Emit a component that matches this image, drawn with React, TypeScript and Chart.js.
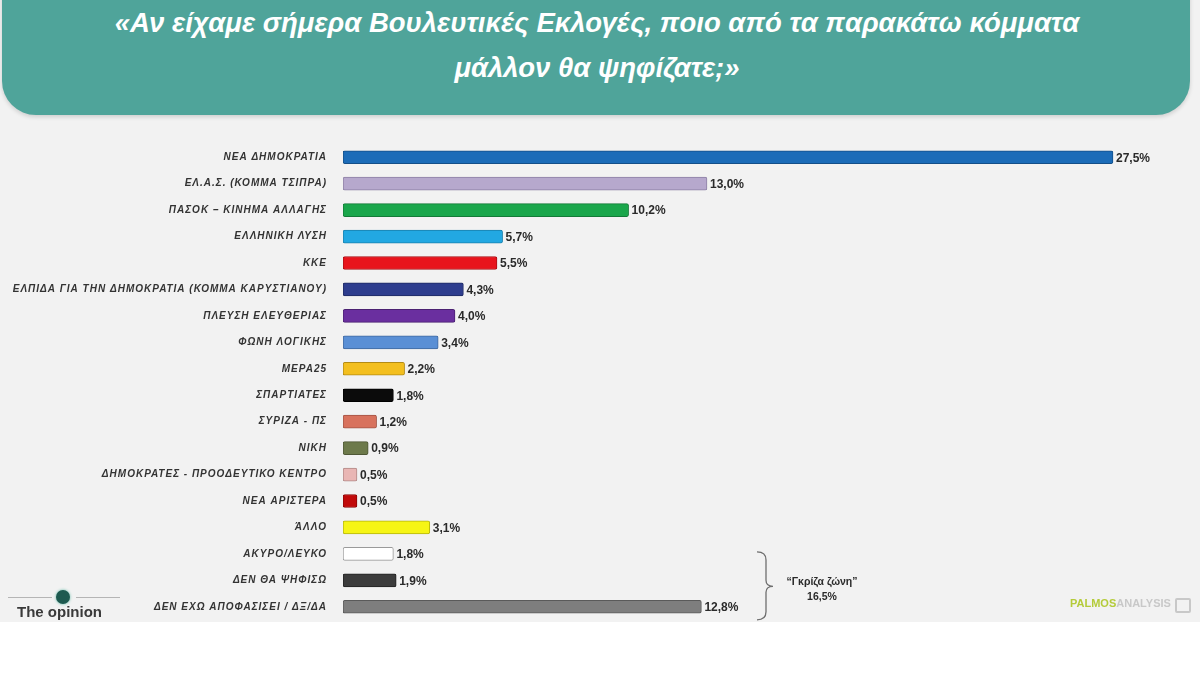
import React, { useEffect, useRef } from "react";
import Chart from "chart.js/auto";

const titleLines = [
  "«Αν είχαμε σήμερα Βουλευτικές Εκλογές, ποιο από τα παρακάτω κόμματα",
  "μάλλον θα ψηφίζατε;»",
];

const categories = [
  "ΝΕΑ ΔΗΜΟΚΡΑΤΙΑ",
  "ΕΛ.Α.Σ. (ΚΟΜΜΑ ΤΣΙΠΡΑ)",
  "ΠΑΣΟΚ – ΚΙΝΗΜΑ ΑΛΛΑΓΗΣ",
  "ΕΛΛΗΝΙΚΗ ΛΥΣΗ",
  "ΚΚΕ",
  "ΕΛΠΙΔΑ ΓΙΑ ΤΗΝ ΔΗΜΟΚΡΑΤΙΑ (ΚΟΜΜΑ ΚΑΡΥΣΤΙΑΝΟΥ)",
  "ΠΛΕΥΣΗ ΕΛΕΥΘΕΡΙΑΣ",
  "ΦΩΝΗ ΛΟΓΙΚΗΣ",
  "ΜΕΡΑ25",
  "ΣΠΑΡΤΙΑΤΕΣ",
  "ΣΥΡΙΖΑ - ΠΣ",
  "ΝΙΚΗ",
  "ΔΗΜΟΚΡΑΤΕΣ - ΠΡΟΟΔΕΥΤΙΚΟ ΚΕΝΤΡΟ",
  "ΝΕΑ ΑΡΙΣΤΕΡΑ",
  "ΆΛΛΟ",
  "ΑΚΥΡΟ/ΛΕΥΚΟ",
  "ΔΕΝ ΘΑ ΨΗΦΙΣΩ",
  "ΔΕΝ ΕΧΩ ΑΠΟΦΑΣΙΣΕΙ / ΔΞ/ΔΑ",
];

const values = [27.5, 13.0, 10.2, 5.7, 5.5, 4.3, 4.0, 3.4, 2.2, 1.8, 1.2, 0.9, 0.5, 0.5, 3.1, 1.8, 1.9, 12.8];

const valueLabels = [
  "27,5%", "13,0%", "10,2%", "5,7%", "5,5%", "4,3%", "4,0%", "3,4%", "2,2%",
  "1,8%", "1,2%", "0,9%", "0,5%", "0,5%", "3,1%", "1,8%", "1,9%", "12,8%",
];

const barColors = [
  "#1c6cb8", "#b6a8cd", "#1aa64b", "#22a8e2", "#e8141c", "#2e3d8e",
  "#6a2f9f", "#5a8fd5", "#f3bf1f", "#0b0b0b", "#d8725d", "#6d7a4b",
  "#e9b6b4", "#c10a0a", "#f6f515", "#ffffff", "#3c3c3c", "#7e7e7e",
];

const borderColors = [
  "#144f88", "#8d80a4", "#137a37", "#1a80ad", "#a80f15", "#1f2a62",
  "#4b2172", "#41689e", "#b38b15", "#000000", "#a35546", "#4f5836",
  "#b08886", "#8a0707", "#b5b40f", "#9a9a9a", "#222222", "#5a5a5a",
];

const greyZoneLabel = "“Γκρίζα ζώνη”";
const greyZoneValue = "16,5%";

const valueLabelPlugin = {
  id: "valueLabels",
  afterDatasetsDraw(chart: any) {
    const ctx = chart.ctx;
    const meta = chart.getDatasetMeta(0);
    ctx.save();
    ctx.font = "bold 12px 'Liberation Sans', Arial, sans-serif";
    ctx.fillStyle = "#2a2a2a";
    ctx.textAlign = "left";
    ctx.textBaseline = "middle";
    meta.data.forEach((bar: any, i: number) => {
      ctx.fillText(valueLabels[i], bar.x + 3, bar.y + 1);
    });
    ctx.restore();
  },
};

const bracePlugin = {
  id: "greyBrace",
  afterDraw(chart: any) {
    const ctx = chart.ctx;
    const y = chart.scales.y;
    const n = categories.length;
    const top = y.getPixelForValue(n - 3) - 2;
    const mid = y.getPixelForValue(n - 2) + 6;
    const bottom = y.getPixelForValue(n - 1) + 13;
    const x0 = 757;
    const xm = 766;
    const tip = 773;
    ctx.save();
    ctx.strokeStyle = "#6f6f6f";
    ctx.lineWidth = 1.3;
    ctx.beginPath();
    ctx.moveTo(x0, top);
    ctx.quadraticCurveTo(xm, top, xm, top + 8);
    ctx.lineTo(xm, mid - 6);
    ctx.quadraticCurveTo(xm, mid, tip, mid);
    ctx.quadraticCurveTo(xm, mid, xm, mid + 6);
    ctx.lineTo(xm, bottom - 8);
    ctx.quadraticCurveTo(xm, bottom, x0, bottom);
    ctx.stroke();
    ctx.font = "bold 10.5px 'Liberation Sans', Arial, sans-serif";
    ctx.fillStyle = "#2a2a2a";
    ctx.textAlign = "center";
    ctx.textBaseline = "middle";
    ctx.fillText(greyZoneLabel, 822, mid - 4);
    ctx.fillText(greyZoneValue, 822, mid + 11);
    ctx.restore();
  },
};

const tickSpacingPlugin = {
  id: "tickSpacing",
  beforeDraw(chart: any) {
    chart.ctx.letterSpacing = "1px";
  },
  beforeDatasetsDraw(chart: any) {
    chart.ctx.letterSpacing = "0px";
  },
};

export default function App() {
  const canvasRef = useRef<HTMLCanvasElement | null>(null);

  useEffect(() => {
    if (!canvasRef.current) return;
    const chart = new Chart(canvasRef.current, {
      type: "bar",
      data: {
        labels: categories,
        datasets: [
          {
            data: values,
            backgroundColor: barColors,
            borderColor: borderColors,
            borderWidth: 1,
            borderSkipped: false,
            borderRadius: 2,
            barThickness: 13,
          },
        ],
      },
      options: {
        indexAxis: "y",
        responsive: false,
        animation: false,
        layout: { padding: { left: 0, right: 17, top: 144, bottom: 55 } },
        plugins: {
          legend: { display: false },
          tooltip: { enabled: false },
          title: { display: false },
        },
        scales: {
          x: { display: false, min: 0, max: 30 },
          y: {
            grid: { display: false, drawTicks: false },
            border: { display: false },
            ticks: {
              padding: 16,
              color: "#333333",
              autoSkip: false,
              font: { family: "'Liberation Sans', Arial, sans-serif", size: 10, style: "italic", weight: "bold" },
            },
            afterFit(scale: any) {
              scale.width = 343;
            },
          },
        },
      },
      plugins: [tickSpacingPlugin, valueLabelPlugin, bracePlugin],
    } as any);
    return () => chart.destroy();
  }, []);

  return (
    <div style={{ position: "absolute", left: 0, top: 0, width: 1200, height: 675, background: "#ffffff", overflow: "hidden", fontFamily: "'Liberation Sans', Arial, sans-serif" }}>
      <div style={{ position: "absolute", left: 0, top: 0, width: 1200, height: 622, background: "#f2f2f2" }} />
      <div
        style={{
          position: "absolute",
          left: 2,
          top: -40,
          width: 1188,
          height: 155,
          background: "#4fa49a",
          borderRadius: "0 0 34px 34px",
          boxShadow: "0 2px 4px rgba(0,0,0,0.15)",
        }}
      />
      {titleLines.map((t, i) => (
        <div
          key={i}
          style={{
            position: "absolute",
            left: 0,
            width: 1194,
            top: 7 + i * 45,
            height: 32,
            lineHeight: "32px",
            textAlign: "center",
            color: "#ffffff",
            fontSize: 27.5,
            fontWeight: "bold",
            fontStyle: "italic",
            whiteSpace: "nowrap",
          }}
        >
          {t}
        </div>
      ))}
      <canvas ref={canvasRef} width={1200} height={675} style={{ position: "absolute", left: 0, top: 0, width: 1200, height: 675 }} />
      {/* The opinion logo */}
      <div style={{ position: "absolute", left: 8, top: 597, width: 44, height: 1, background: "#b5b5b5" }} />
      <div style={{ position: "absolute", left: 76, top: 597, width: 44, height: 1, background: "#b5b5b5" }} />
      <div style={{ position: "absolute", left: 56, top: 590, width: 14, height: 14, borderRadius: 7, background: "#1e5a50", boxShadow: "0 0 3px #5fb8a5" }} />
      <div style={{ position: "absolute", left: 17, top: 603, fontSize: 15, fontWeight: "bold", color: "#3a3a3a", whiteSpace: "nowrap" }}>The opinion</div>
      {/* Palmos Analysis logo */}
      <div style={{ position: "absolute", left: 1070, top: 597, fontSize: 11, fontWeight: "bold", whiteSpace: "nowrap" }}>
        <span style={{ color: "#b4cb3a" }}>PALMOS</span>
        <span style={{ color: "#c8c8c8" }}>ANALYSIS</span>
      </div>
      <div style={{ position: "absolute", left: 1175, top: 598, width: 12, height: 11, border: "2px solid #c8c8c8", borderRadius: 2 }} />
    </div>
  );
}
